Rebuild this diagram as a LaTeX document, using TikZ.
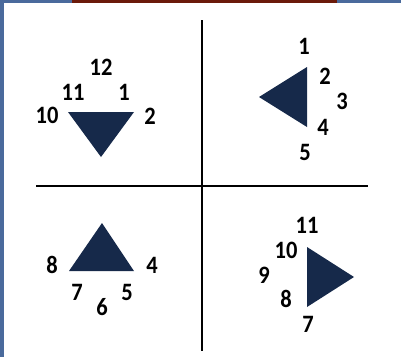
\documentclass[tikz,border=0pt]{standalone}
\usepackage{fontspec}
\setmainfont{Carlito}[FakeStretch=0.9]
\definecolor{navy}{HTML}{16294A}
\definecolor{strip}{HTML}{4A6A9C}
\definecolor{topbar}{HTML}{6B1A0A}
\begin{document}
\begin{tikzpicture}[
    x=1pt, y=-1pt,
    num/.style={font=\bfseries\fontsize{25}{25}\selectfont, inner sep=0pt},
    tri/.style={fill=navy},
    axis/.style={line width=1.6pt, black}
]
    \useasboundingbox (0,0) rectangle (401,357);

    % Frame
    \fill[strip] (0,0) rectangle (4,357);
    \fill[strip] (0,0) rectangle (72,3);
    \fill[topbar] (72,0) rectangle (337,3);
    \fill[strip] (337,0) rectangle (401,3);

    % Axes
    \coordinate (vtop) at (202,20);
    \coordinate (vbot) at (202,351);
    \coordinate (hleft) at (36,186);
    \coordinate (hright) at (368,186);
    \draw[axis] (vtop) -- (vbot);
    \draw[axis] (hleft) -- (hright);

    % Top left: pointing down
    \fill[tri] (68,112) -- (134,112) -- (101,157) -- cycle;
    \node[num] (tl12) at (101,67) {12};
    \node[num] (tl11) at (73,92) {11};
    \node[num] (tl1) at (124,92) {1};
    \node[num] (tl10) at (47,115) {10};
    \node[num] (tl2) at (150,116) {2};

    % Top right: pointing left
    \fill[tri] (307,67) -- (307,127) -- (259,97) -- cycle;
    \node[num] (tr1) at (304,46) {1};
    \node[num] (tr2) at (325,76) {2};
    \node[num] (tr3) at (342,101) {3};
    \node[num] (tr4) at (323,127) {4};
    \node[num] (tr5) at (305,152) {5};

    % Bottom left: pointing up
    \fill[tri] (69,271) -- (134,271) -- (102,223) -- cycle;
    \node[num] (bl8) at (52,265) {8};
    \node[num] (bl4) at (152,265) {4};
    \node[num] (bl7) at (77,292) {7};
    \node[num] (bl5) at (127,292) {5};
    \node[num] (bl6) at (102,307) {6};

    % Bottom right: pointing right
    \fill[tri] (307,247) -- (307,307) -- (354,277) -- cycle;
    \node[num] (br11) at (307,225) {11};
    \node[num] (br10) at (286,250) {10};
    \node[num] (br9) at (264,275) {9};
    \node[num] (br8) at (286,299) {8};
    \node[num] (br7) at (308,324) {7};

\end{tikzpicture}
\end{document}
